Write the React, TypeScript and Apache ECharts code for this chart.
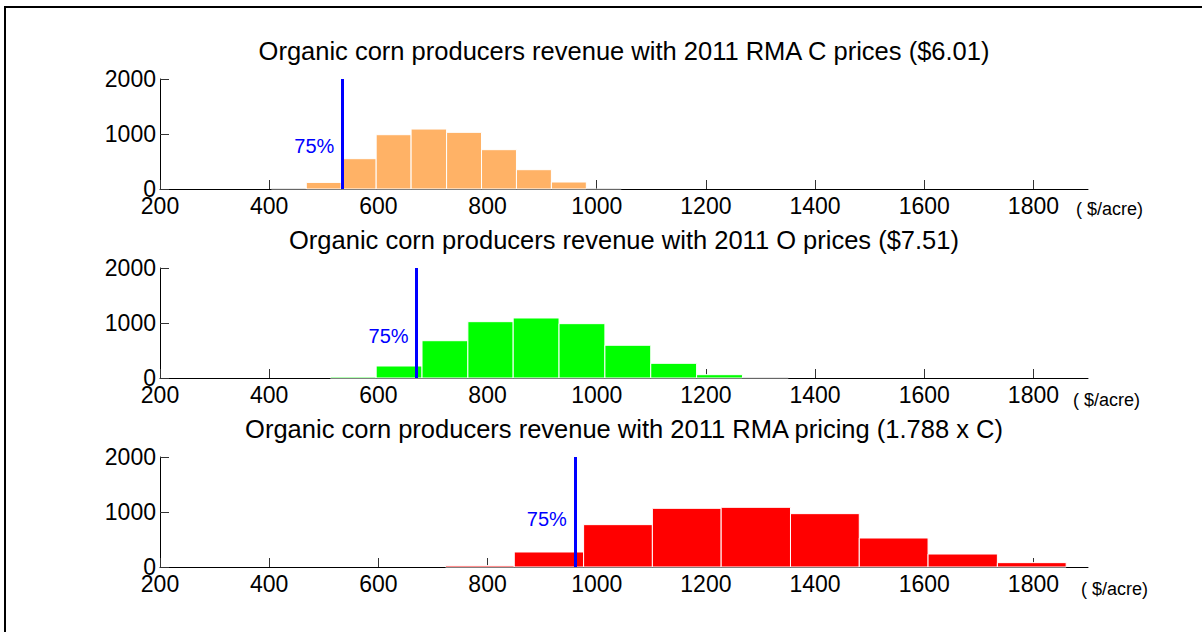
import React, { useEffect, useRef } from "react";
import * as echarts from "echarts";

const xTicks = [200, 400, 600, 800, 1000, 1200, 1400, 1600, 1800];
const xMin = 200;
const xMax = 1900;
const yMax = 2000;

const titles = [
  "Organic corn producers revenue with 2011 RMA C prices ($6.01)",
  "Organic corn producers revenue with 2011 O prices ($7.51)",
  "Organic corn producers revenue with 2011 RMA pricing (1.788 x C)",
];

// Histogram bin edges and counts for each panel
const edgesC = [404, 468, 532, 596, 660, 725, 789, 853, 917, 981, 1045];
const countsC = [0, 120, 551, 987, 1090, 1030, 715, 351, 127, 0];

const edgesO = [512, 596, 680, 764, 847, 931, 1015, 1099, 1183, 1267, 1351];
const countsO = [20, 218, 678, 1024, 1091, 988, 595, 267, 60, 0];

const edgesR = [723, 849, 976, 1102, 1228, 1355, 1481, 1607, 1734, 1860];
const countsR = [25, 273, 770, 1067, 1085, 970, 527, 236, 79];

const thresholds = [534, 670, 960];
const thresholdLabel = "75%";
const thresholdLabelY = [790, 760, 876];
const unitLabel = "( $/acre)";

const colors = ["#FFB266", "#00FF00", "#FF0000"];
const allEdges = [edgesC, edgesO, edgesR];
const allCounts = [countsC, countsO, countsR];

const FONT = "'Liberation Sans', Arial, Helvetica, sans-serif";

export default function App() {
  const ref = useRef<HTMLDivElement>(null);

  useEffect(() => {
    if (!ref.current) return;
    const chart = echarts.init(ref.current, undefined, { renderer: "svg" });

    const gridTops = [79, 268, 457];
    const gridH = 110;
    const unitPos = [
      [1076, 209],
      [1073, 400],
      [1081, 589],
    ];

    const grids = gridTops.map((t) => ({ left: 160, width: 928, top: t, height: gridH }));

    const plain = (v: number) => String(v);

    const xAxes = gridTops.map((_, i) => ({
      type: "value",
      gridIndex: i,
      min: xMin,
      max: xMax,
      axisLine: { show: true, lineStyle: { color: "#000", width: 1 } },
      axisTick: { show: true, inside: true, length: 9, customValues: xTicks, lineStyle: { color: "#333" } },
      axisLabel: { customValues: xTicks, formatter: plain, fontSize: 23, color: "#000", margin: 5, fontFamily: FONT },
      splitLine: { show: false },
    }));

    const yAxes = gridTops.map((_, i) => ({
      type: "value",
      gridIndex: i,
      min: 0,
      max: yMax,
      interval: 1000,
      axisLine: { show: true, lineStyle: { color: "#000", width: 1 } },
      axisTick: { show: true, inside: true, length: 9, lineStyle: { color: "#333" } },
      axisLabel: { formatter: plain, fontSize: 23, color: "#000", margin: 4, fontFamily: FONT },
      splitLine: { show: false },
    }));

    const series = allEdges.map((edges, i) => {
      const counts = allCounts[i];
      const data = counts.map((c, k) => [edges[k], edges[k + 1], c]);
      const color = colors[i];
      return {
        type: "custom",
        xAxisIndex: i,
        yAxisIndex: i,
        data,
        encode: { x: [0, 1], y: 2 },
        renderItem: (params: any, api: any) => {
          const x0 = api.value(0);
          const x1 = api.value(1);
          const c = api.value(2);
          const p0 = api.coord([x0, c]);
          const p1 = api.coord([x1, 0]);
          if (c === 0) {
            return {
              type: "line",
              shape: { x1: p0[0], y1: p1[1], x2: p1[0], y2: p1[1] },
              style: { stroke: "#cccccc", lineWidth: 1 },
            };
          }
          return {
            type: "rect",
            shape: { x: p0[0], y: p0[1], width: p1[0] - p0[0], height: p1[1] - p0[1] },
            style: { fill: color, stroke: "#ffffff", lineWidth: 1 },
          };
        },
        markLine: {
          silent: true,
          symbol: "none",
          z: 5,
          label: { show: false },
          lineStyle: { color: "#0000FF", width: 3, type: "solid" },
          data: [[{ coord: [thresholds[i], 0] }, { coord: [thresholds[i], yMax] }]],
        },
        markPoint: {
          silent: true,
          symbol: "circle",
          symbolSize: 0,
          label: {
            show: true,
            position: "left",
            distance: 8,
            formatter: thresholdLabel,
            color: "#0000FF",
            fontSize: 20,
            fontFamily: FONT,
          },
          data: [{ coord: [thresholds[i], thresholdLabelY[i]] }],
        },
      };
    });

    const titleTops = [38, 227, 416];

    chart.setOption({
      animation: false,
      backgroundColor: "#ffffff",
      title: titles.map((t, i) => ({
        text: t,
        left: 624,
        top: titleTops[i],
        textAlign: "center",
        padding: 0,
        textStyle: { fontSize: 25.5, fontWeight: "normal", color: "#000", fontFamily: FONT },
      })),
      grid: grids,
      xAxis: xAxes,
      yAxis: yAxes,
      series,
      graphic: [
        {
          type: "rect",
          shape: { x: 5, y: 7, width: 1210, height: 700 },
          style: { fill: "none", stroke: "#000", lineWidth: 2 },
          silent: true,
        },
        ...unitPos.map((p) => ({
          type: "text",
          x: p[0],
          y: p[1],
          style: {
            text: unitLabel,
            fontSize: 18,
            fill: "#000",
            fontFamily: FONT,
            verticalAlign: "middle",
            align: "left",
          },
          silent: true,
        })),
      ],
    });

    return () => chart.dispose();
  }, []);

  return (
    <div
      ref={ref}
      style={{ position: "fixed", left: 0, top: 0, width: 1202, height: 632, background: "#fff" }}
    />
  );
}
